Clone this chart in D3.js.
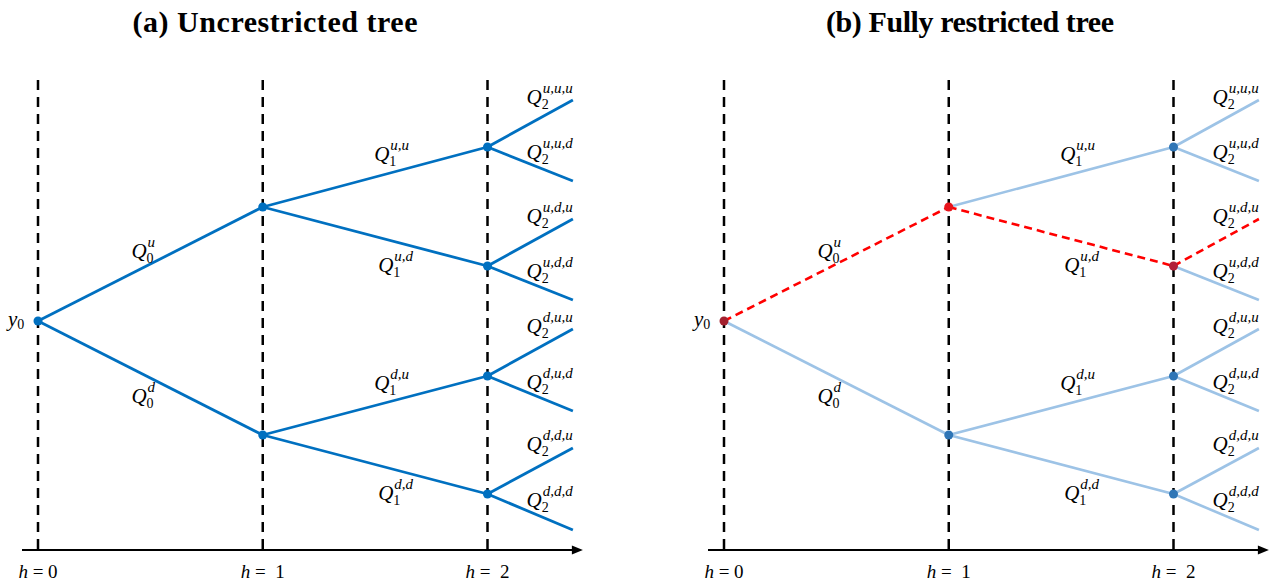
<!DOCTYPE html>
<html>
<head>
<meta charset="utf-8">
<script src="https://cdn.jsdelivr.net/npm/d3@7"></script>
<style>
  html, body { margin: 0; padding: 0; background: #fff; }
  svg { display: block; }
  text { white-space: pre; }
</style>
</head>
<body>
<svg id="chart" width="1271" height="582"></svg>
<script>
// Binomial tree: node paths ("" = root, "u" = up, "d" = down) and their levels
const nodePaths  = ["", "u", "d", "uu", "ud", "du", "dd"];
const nodeValues = [0, 114, -114, 174, 55, -55, -173];
// Terminal branches leaving the h = 2 nodes
const leafPaths  = ["uuu", "uud", "udu", "udd", "duu", "dud", "ddu", "ddd"];
const leafValues = [221, 140, 102, 21, -8, -90, -127, -209];
// Horizon ticks
const horizons   = [0, 1, 2];
const tickLabels = ["h = 0", "h =  1", "h =  2"];
const leafHorizon = 2.38;
// Panels
const panelTitles = ["(a) Uncrestricted tree", "(b) Fully restricted tree"];
const restrictedPath = ["u", "ud", "udu"];

const svg = d3.select("#chart");
const valueOf = new Map();
nodePaths.forEach((p, i) => valueOf.set(p, nodeValues[i]));
leafPaths.forEach((p, i) => valueOf.set(p, leafValues[i]));
const allPaths = nodePaths.concat(leafPaths);

const y = d3.scaleLinear().domain([-229, 241]).range([550, 80]);

function drawPanel(panel, x0) {
  const g = svg.append("g");
  const x = d3.scaleLinear().domain([0, 2]).range([x0, x0 + 449.5]);
  const restricted = panel === 1;

  // Title
  g.append("text")
    .attr("x", x0 + 237 + (restricted ? 9 : 0)).attr("y", 32)
    .attr("text-anchor", "middle")
    .attr("font-family", "'Liberation Serif', 'Times New Roman', serif")
    .attr("font-weight", "bold").attr("font-size", 30)
    .attr("textLength", restricted ? 288 : 285)
    .text(panelTitles[panel]);

  // Dashed horizon lines
  g.selectAll("line.h").data(horizons).join("line")
    .attr("x1", d => x(d)).attr("x2", d => x(d))
    .attr("y1", 80).attr("y2", 550)
    .attr("stroke", "#000").attr("stroke-width", 2.5)
    .attr("stroke-dasharray", "10,7");

  // Horizontal axis with arrow head
  const axisY = 550;
  const xEnd = x(leafHorizon) + 10;
  g.append("line")
    .attr("x1", x0 - 16).attr("x2", xEnd - 8)
    .attr("y1", axisY).attr("y2", axisY)
    .attr("stroke", "#000").attr("stroke-width", 2.2);
  g.append("path")
    .attr("d", `M${xEnd},${axisY} L${xEnd - 11},${axisY - 4.5} L${xEnd - 11},${axisY + 4.5} Z`)
    .attr("fill", "#000");

  // Tick labels
  const tl = g.selectAll("text.tick").data(horizons).join("text")
    .attr("x", d => x(d)).attr("y", 578)
    .attr("text-anchor", "middle")
    .attr("font-family", "'Liberation Serif', serif")
    .attr("font-size", 19);
  tl.each(function(d, i) {
    const t = d3.select(this);
    const s = tickLabels[i];
    t.append("tspan").attr("font-style", "italic").text(s.slice(0, 1));
    t.append("tspan").text(s.slice(1));
  });

  // Edges
  const edges = allPaths.filter(p => p.length > 0).map(p => ({
    child: p, parent: p.slice(0, -1), level: p.length - 1,
    dir: p.slice(-1),
    red: restricted && restrictedPath.includes(p)
  }));
  const xOf = p => x(p.length === 3 ? leafHorizon : p.length);

  const baseColor = restricted ? "#9DC3E6" : "#0070C0";
  g.selectAll("line.edge").data(edges.filter(e => !e.red)).join("line")
    .attr("x1", e => xOf(e.parent)).attr("y1", e => y(valueOf.get(e.parent)))
    .attr("x2", e => xOf(e.child)).attr("y2", e => y(valueOf.get(e.child)))
    .attr("stroke", baseColor).attr("stroke-width", restricted ? 2.6 : 2.8);
  g.selectAll("line.red").data(edges.filter(e => e.red)).join("line")
    .attr("x1", e => xOf(e.parent)).attr("y1", e => y(valueOf.get(e.parent)))
    .attr("x2", e => xOf(e.child)).attr("y2", e => y(valueOf.get(e.child)))
    .attr("stroke", "#FF0000").attr("stroke-width", 2.6)
    .attr("stroke-dasharray", "8,5");

  // Branch labels Q_level^{path}
  const labelFont = "'Liberation Serif', 'Times New Roman', serif";
  edges.forEach(e => {
    const xa = xOf(e.parent), xb = xOf(e.child);
    const ya = y(valueOf.get(e.parent)), yb = y(valueOf.get(e.child));
    const mx = (xa + xb) / 2, my = (ya + yb) / 2;
    let lx, ly;
    if (e.level === 0) { lx = mx - 19; ly = my + (e.dir === "u" ? -6 : 25); }
    else if (e.level === 1) { lx = mx + (e.dir === "u" ? -1 : 3); ly = my + (e.dir === "u" ? -16 : 35); }
    else { lx = x(2) + 39; ly = my + (e.dir === "u" ? -20 : -5); }
    const t = g.append("text").attr("x", lx).attr("y", ly)
      .attr("font-family", labelFont).attr("fill", "#000");
    t.append("tspan").attr("font-style", "italic").attr("font-size", 21).text("Q");
    t.append("tspan").attr("font-size", 14).attr("dy", 5).text(String(e.level));
    t.append("tspan").attr("font-style", "italic").attr("font-size", 15)
      .attr("dx", -6).attr("dy", -16)
      .text(e.child.split("").join(","));
  });

  // y0 label
  const y0t = g.append("text").attr("x", x0 - 30).attr("y", y(0) + 5)
    .attr("font-family", labelFont);
  y0t.append("tspan").attr("font-style", "italic").attr("font-size", 21).text("y");
  y0t.append("tspan").attr("font-size", 14).attr("dy", 3).text("0");

  // Nodes
  const dotColor = p => {
    if (!restricted) return "#0070C0";
    if (p === "") return "#A3202E";
    if (p === "u") return "#E8141C";
    if (p === "ud") return "#B0203A";
    return "#2E75B6";
  };
  g.selectAll("circle").data(nodePaths).join("circle")
    .attr("cx", p => x(p.length)).attr("cy", p => y(valueOf.get(p)))
    .attr("r", 4.5).attr("fill", dotColor);
}

drawPanel(0, 38);
drawPanel(1, 724);
</script>
</body>
</html>
